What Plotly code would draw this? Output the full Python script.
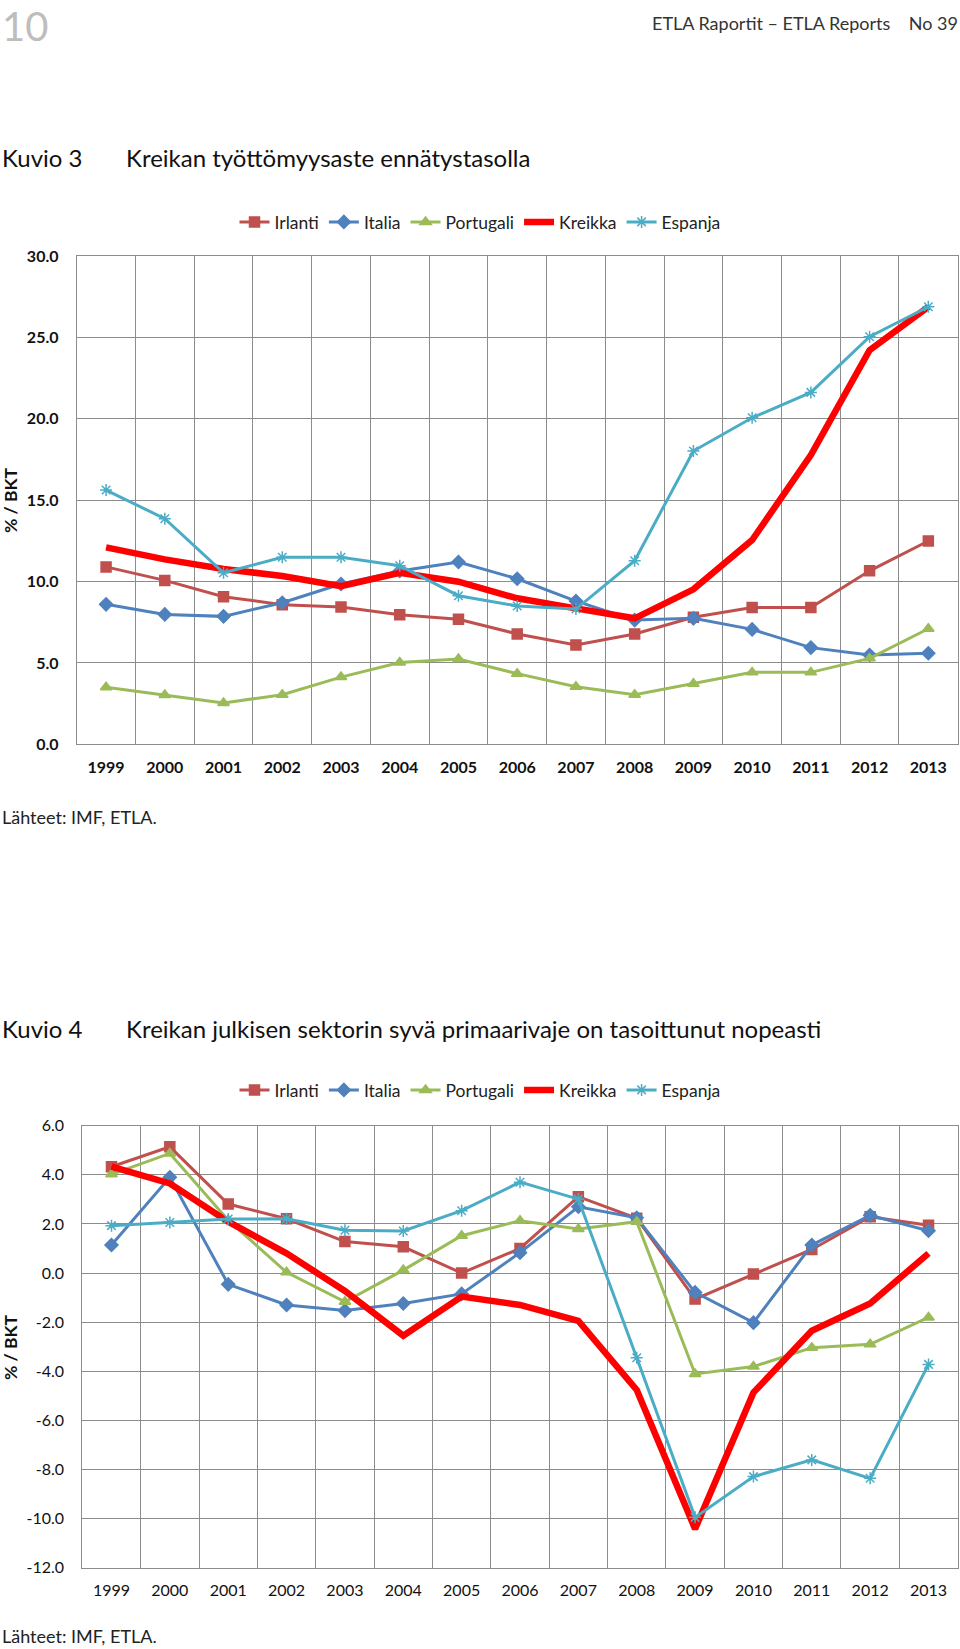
import plotly.graph_objects as go

years = [str(y) for y in range(1999, 2014)]
series_names = ["Irlanti", "Italia", "Portugali", "Kreikka", "Espanja"]

# Kuvio 3: unemployment rate (%)
unemp_irlanti = [10.9, 10.07, 9.07, 8.58, 8.43, 7.96, 7.68, 6.78, 6.1, 6.78, 7.8, 8.41, 8.41, 10.66, 12.49]
unemp_italia = [8.6, 7.98, 7.86, 8.7, 9.85, 10.65, 11.2, 10.17, 8.8, 7.63, 7.74, 7.06, 5.94, 5.49, 5.59]
unemp_portugali = [3.5, 3.03, 2.54, 3.05, 4.13, 5.03, 5.24, 4.34, 3.54, 3.05, 3.72, 4.42, 4.42, 5.28, 7.1]
unemp_kreikka = [12.1, 11.36, 10.77, 10.34, 9.72, 10.54, 9.99, 8.97, 8.35, 7.74, 9.52, 12.55, 17.77, 24.22, 26.88]
unemp_espanja = [15.62, 13.86, 10.54, 11.49, 11.49, 10.97, 9.13, 8.5, 8.31, 11.28, 18.02, 20.06, 21.62, 25.04, 26.88]

# Kuvio 4: primary balance (% of GDP)
prim_irlanti = [4.33, 5.14, 2.81, 2.21, 1.28, 1.07, 0.0, 1.0, 3.11, 2.23, -1.06, -0.04, 0.96, 2.29, 1.95]
prim_italia = [1.14, 3.9, -0.46, -1.3, -1.53, -1.24, -0.85, 0.83, 2.7, 2.25, -0.79, -2.02, 1.14, 2.35, 1.72]
prim_portugali = [4.02, 4.87, 2.15, 0.03, -1.17, 0.12, 1.52, 2.13, 1.79, 2.09, -4.11, -3.81, -3.04, -2.9, -1.81]
prim_kreikka = [4.33, 3.65, 2.09, 0.8, -0.73, -2.55, -0.96, -1.3, -1.95, -4.76, -10.42, -4.87, -2.35, -1.24, 0.8]
prim_espanja = [1.93, 2.06, 2.2, 2.21, 1.74, 1.71, 2.54, 3.7, 3.01, -3.45, -9.95, -8.29, -7.61, -8.36, -3.72]

y1_ticks = [0, 5, 10, 15, 20, 25, 30]
y2_ticks = [6, 4, 2, 0, -2, -4, -6, -8, -10, -12]

colors = {"Irlanti": "#C0504D", "Italia": "#4F81BD", "Portugali": "#9BBB59",
          "Kreikka": "#FF0000", "Espanja": "#4BACC6"}
symbols = {"Irlanti": "square", "Italia": "diamond", "Portugali": "triangle-up",
           "Kreikka": None, "Espanja": "asterisk-open"}

FONT = "Lato"
H = 1649.0

def py(pix):
    return 1 - pix / H

fig = go.Figure()

def add_series(data, xa, ya, legend):
    for name, vals in zip(series_names, data):
        c = colors[name]
        if name == "Kreikka":
            fig.add_trace(go.Scatter(x=years, y=vals, name=name, mode="lines",
                                     line=dict(color=c, width=6.5), xaxis=xa, yaxis=ya,
                                     legend=legend))
        else:
            sym = symbols[name]
            fig.add_trace(go.Scatter(x=years, y=vals, name=name, mode="lines+markers",
                                     line=dict(color=c, width=3),
                                     marker=dict(symbol=sym, size=10, color=c,
                                                 line=dict(color=c, width=1.5)),
                                     xaxis=xa, yaxis=ya, legend=legend))

add_series([unemp_irlanti, unemp_italia, unemp_portugali, unemp_kreikka, unemp_espanja], "x", "y", "legend")
add_series([prim_irlanti, prim_italia, prim_portugali, prim_kreikka, prim_espanja], "x2", "y2", "legend2")

grid = "#8c8c8c"
common_x = dict(type="category", range=[-0.5, 14.5], tickson="boundaries", showgrid=True,
                gridcolor=grid, gridwidth=1, showline=True, linecolor=grid, linewidth=1,
                mirror=True, ticks="", zeroline=False, ticklabelstandoff=8, automargin=False)
common_y = dict(showgrid=True, gridcolor=grid, gridwidth=1, showline=True, linecolor=grid,
                linewidth=1, mirror=True, ticks="", zeroline=False, ticklabelstandoff=14,
                automargin=False)

legend_common = dict(orientation="h", x=0.5, xanchor="center", yanchor="middle",
                     font=dict(family=FONT, size=17.5, color="#222"),
                     bgcolor="rgba(0,0,0,0)", itemwidth=30, traceorder="normal")

fig.update_layout(
    width=960, height=1649,
    margin=dict(l=0, r=0, t=0, b=0, pad=0, autoexpand=False),
    paper_bgcolor="white", plot_bgcolor="white",
    font=dict(family=FONT, color="#1a1a1a"),
    xaxis=dict(common_x, domain=[76.7 / 960, 957.7 / 960], anchor="y",
               tickfont=dict(family=FONT, size=16, color="#111", weight="bold")),
    yaxis=dict(common_y, domain=[py(744.3), py(256)], anchor="x", range=[0, 30],
               tickvals=y1_ticks, ticktext=[f"{v:.1f}" for v in y1_ticks],
               tickfont=dict(family=FONT, size=16, color="#111", weight="bold")),
    xaxis2=dict(common_x, domain=[82.3 / 960, 957.7 / 960], anchor="y2",
                tickfont=dict(family=FONT, size=16, color="#111")),
    yaxis2=dict(common_y, domain=[py(1567.7), py(1125.7)], anchor="x2", range=[-12, 6],
                tickvals=y2_ticks, ticktext=[f"{v:.1f}" for v in y2_ticks],
                tickfont=dict(family=FONT, size=16, color="#111")),
    legend=dict(legend_common, y=py(222)),
    legend2=dict(legend_common, y=py(1090)),
    showlegend=True,
)

ann = [
    dict(text="10", x=0, y=py(0), xanchor="left", yanchor="top",
         font=dict(family=FONT, size=40, color="#bdbdbd")),
    dict(text="ETLA Raportit – ETLA Reports&nbsp;&nbsp;&nbsp;&nbsp;No 39", x=1, y=py(23),
         xanchor="right", yanchor="middle", font=dict(family=FONT, size=18, color="#333")),
    dict(text="Kuvio 3", x=0, y=py(157), xanchor="left", yanchor="middle",
         font=dict(family=FONT, size=24, color="#111")),
    dict(text="Kreikan työttömyysaste ennätystasolla", x=124 / 960, y=py(157),
         xanchor="left", yanchor="middle", font=dict(family=FONT, size=24, color="#111")),
    dict(text="% / BKT", x=10 / 960, y=py(500), xanchor="center", yanchor="middle",
         textangle=-90, font=dict(family=FONT, size=17.5, color="#111", weight="bold")),
    dict(text="Lähteet: IMF, ETLA.", x=0, y=py(817), xanchor="left", yanchor="middle",
         font=dict(family=FONT, size=18, color="#222")),
    dict(text="Kuvio 4", x=0, y=py(1028), xanchor="left", yanchor="middle",
         font=dict(family=FONT, size=24, color="#111")),
    dict(text="Kreikan julkisen sektorin syvä primaarivaje on tasoittunut nopeasti",
         x=124 / 960, y=py(1028), xanchor="left", yanchor="middle",
         font=dict(family=FONT, size=24, color="#111")),
    dict(text="% / BKT", x=10 / 960, y=py(1347), xanchor="center", yanchor="middle",
         textangle=-90, font=dict(family=FONT, size=17.5, color="#111", weight="bold")),
    dict(text="Lähteet: IMF, ETLA.", x=0, y=py(1636), xanchor="left", yanchor="middle",
         font=dict(family=FONT, size=18, color="#222")),
]
for a in ann:
    a.update(xref="paper", yref="paper", showarrow=False)
fig.update_layout(annotations=ann)

fig.write_html("out.html", config={"displayModeBar": False},
               post_script="document.body.style.margin='0';document.body.style.overflow='hidden';")
